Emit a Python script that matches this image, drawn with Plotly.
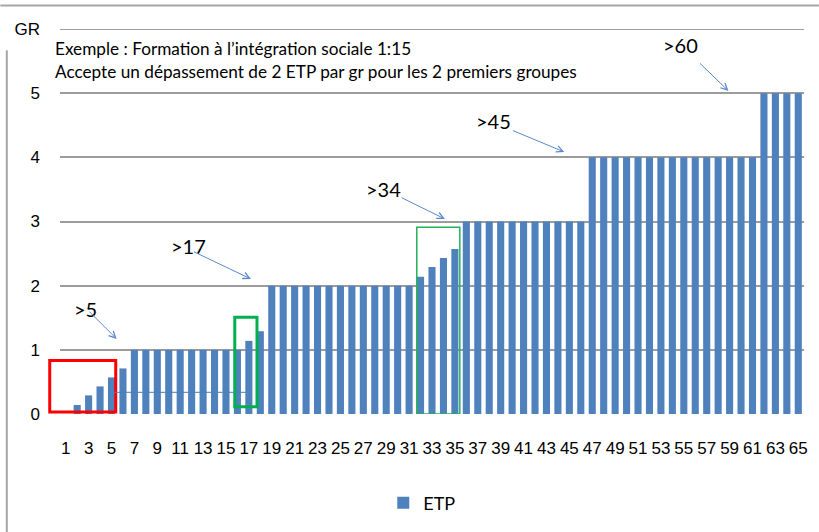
import plotly.graph_objects as go

# ---- data ----
groups = list(range(1, 66))
etp = [0, 0.14, 0.29, 0.43, 0.57, 0.71,
       1, 1, 1, 1, 1, 1, 1, 1, 1, 1,
       1.14, 1.29,
       2, 2, 2, 2, 2, 2, 2, 2, 2, 2, 2, 2, 2,
       2.14, 2.29, 2.43, 2.57,
       3, 3, 3, 3, 3, 3, 3, 3, 3, 3, 3,
       4, 4, 4, 4, 4, 4, 4, 4, 4, 4, 4, 4, 4, 4, 4,
       5, 5, 5, 5]
y_tickvals = [0, 1, 2, 3, 4, 5, 6]
y_ticktext = ["0", "1", "2", "3", "4", "5", "GR"]
thresholds = [">5", ">17", ">34", ">45", ">60"]
note_lines = ["Exemple : Formation à l’intégration sociale 1:15",
              "Accepte un dépassement de 2 ETP par gr pour les 2 premiers groupes"]

BAR = "#4f81bd"
GRID = "#9c9c9c"
ARROW = "#5a89cf"
FONT = "Lato"
TICKFONT = "Liberation Sans"

fig = go.Figure()
fig.add_trace(go.Bar(x=groups, y=etp, name="ETP", marker=dict(color=BAR, line=dict(width=0))))

# threshold labels and arrows (text pos, arrow tail, arrow head) in data coords
label_pos = [(2.72, 1.644), (11.71, 2.626), (28.74, 3.506), (38.41, 4.574), (54.72, 5.743)]
arrow_tail = [(2.93, 1.62), (12.06, 2.54), (30.22, 3.382), (39.95, 4.426), (56.29, 5.486)]
arrow_head = [(5.45, 1.169), (17.18, 2.104), (34.13, 3.039), (44.56, 4.083), (58.9, 5.034)]

annotations = []
for t, (lx, ly), (tx, ty), (hx, hy) in zip(thresholds, label_pos, arrow_tail, arrow_head):
    annotations.append(dict(x=lx, y=ly, xref="x", yref="y", text=t, showarrow=False,
                            font=dict(family=FONT, size=20, color="#000000"),
                            xanchor="center", yanchor="middle"))
    annotations.append(dict(x=hx, y=hy, ax=tx, ay=ty, xref="x", yref="y", axref="x", ayref="y",
                            text="", showarrow=True, arrowhead=5, arrowsize=1.3, arrowwidth=1,
                            arrowcolor=ARROW, standoff=0, startstandoff=0))

# note text (paper coords)
annotations.append(dict(x=-0.0088, y=0.9506, xref="paper", yref="paper", text=note_lines[0],
                        showarrow=False, xanchor="left", yanchor="middle",
                        font=dict(family=FONT, size=17.2, color="#000000")))
annotations.append(dict(x=-0.0088, y=0.8896, xref="paper", yref="paper", text=note_lines[1],
                        showarrow=False, xanchor="left", yanchor="middle",
                        font=dict(family=FONT, size=17.2, color="#000000")))

shapes = [
    # outer frame pieces
    dict(type="line", xref="paper", yref="paper", x0=-0.0802, x1=1.02, y0=1.061, y1=1.061,
         line=dict(color="#a6a6a6", width=2)),
    dict(type="line", xref="paper", yref="paper", x0=-0.0715, x1=-0.0715, y0=0.945, y1=-0.32,
         line=dict(color="#a6a6a6", width=2)),
    # top gridline (y = 6)
    dict(type="line", xref="paper", yref="y", x0=0, x1=1, y0=6, y1=6,
         line=dict(color=GRID, width=2), layer="below"),
    # red box
    dict(type="rect", xref="paper", yref="y", x0=-0.0138, x1=0.0749, y0=0.031, y1=0.832,
         line=dict(color="#ff0000", width=3), layer="above"),
    # green boxes
    dict(type="rect", xref="x", yref="y", x0=15.77, x1=17.71, y0=0.114, y1=1.507,
         line=dict(color="#00b050", width=3), layer="above"),
    dict(type="rect", xref="x", yref="y", x0=31.67, x1=35.43, y0=0.0, y1=2.91,
         line=dict(color="#22b35a", width=1.5), layer="above"),
    # stray thin line
    dict(type="line", xref="x", yref="y", x0=4.84, x1=17.16, y0=0.338, y1=0.338,
         line=dict(color="#4a7ebb", width=1), layer="above"),
]

fig.update_layout(
    width=819, height=532,
    margin=dict(l=60, r=11, t=29, b=118),
    paper_bgcolor="white", plot_bgcolor="white",
    font=dict(family=FONT, size=17, color="#000000"),
    bargap=0.38,
    showlegend=True,
    legend=dict(orientation="h", x=0.4345, y=-0.231, xanchor="left", yanchor="middle",
                font=dict(family=FONT, size=18, color="#000000"), bgcolor="rgba(0,0,0,0)"),
    annotations=annotations,
    shapes=shapes,
)
fig.update_xaxes(range=[0.5, 65.5], tickmode="linear", tick0=1, dtick=2,
                 showgrid=False, zeroline=False, showline=False, ticks="",
                 ticklabelstandoff=22, tickfont=dict(family=TICKFONT, size=17, color="#000000"))
fig.update_yaxes(range=[0, 6], tickmode="array", tickvals=y_tickvals, ticktext=y_ticktext,
                 showgrid=True, gridcolor=GRID, gridwidth=2, zeroline=False, showline=False,
                 ticks="", ticklabelstandoff=19,
                 tickfont=dict(family=TICKFONT, size=17, color="#000000"))

fig.write_html("out.html", config={"displayModeBar": False},
               post_script="document.body.style.margin='0';document.body.style.padding='0';")
